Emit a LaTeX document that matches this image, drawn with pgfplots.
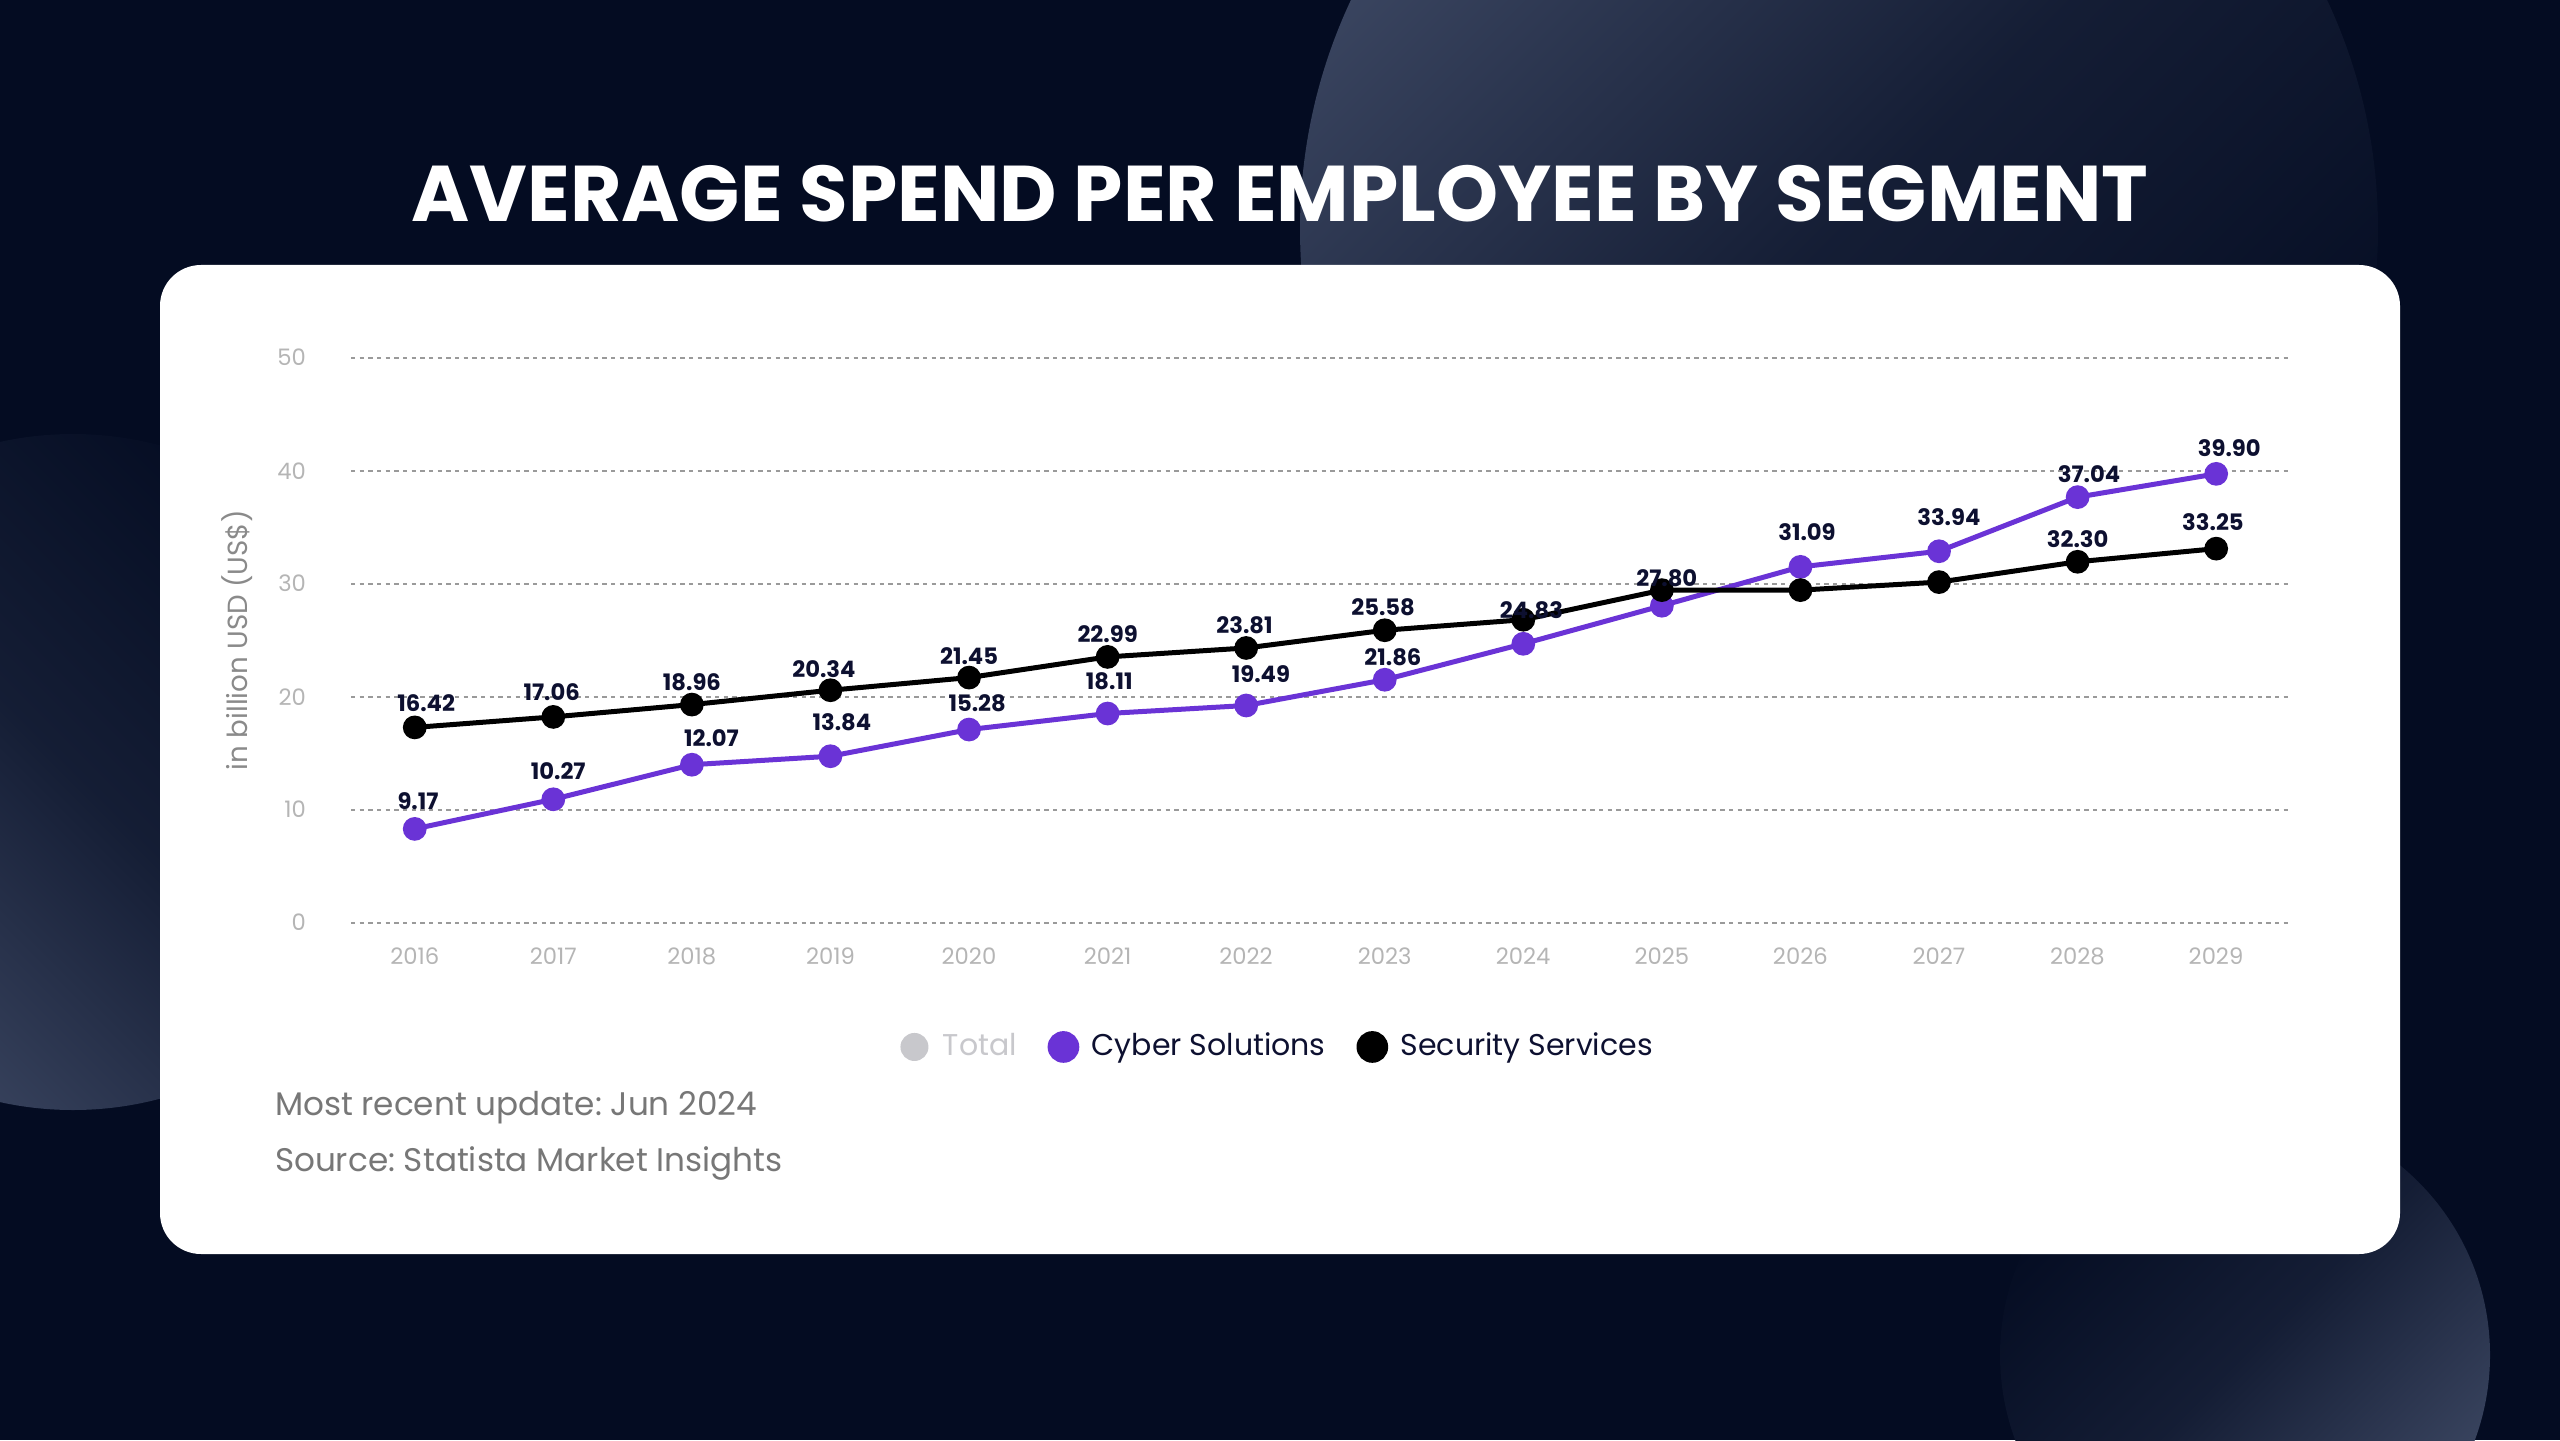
\documentclass[border=0pt]{standalone}
\usepackage{pgfplots}
\pgfplotsset{compat=1.18}
\usepackage{pgfplotstable}
\usepackage{fontspec}
\setmainfont{Poppins}
\frenchspacing
\definecolor{bg}{HTML}{040C22}
\definecolor{circA}{HTML}{3B4661}
\definecolor{cyber}{HTML}{6A33D6}
\definecolor{secur}{HTML}{000000}
\definecolor{lbltext}{HTML}{0D1030}
\definecolor{ticktext}{HTML}{B5B5B5}
\definecolor{ylab}{HTML}{8A8A8A}
\definecolor{gridc}{HTML}{9A9A9A}
\definecolor{foot}{HTML}{777777}
\definecolor{totalc}{HTML}{C8C8CC}

\pgfplotstableread{
x y lbl dx dy
2016 8.30 9.17 2 17
2017 10.92 10.27 3 17
2018 13.98 12.07 12 16
2019 14.73 13.84 7 21
2020 17.09 15.28 5 16
2021 18.51 18.11 1 20
2022 19.22 19.49 9 19
2023 21.50 21.86 5 14
2024 24.68 {} 0 0
2025 28.05 {} 0 0
2026 31.49 31.09 4 21
2027 32.87 33.94 6 21
2028 37.66 37.04 7 14
2029 39.72 39.90 8 16
}\cybertab

\pgfplotstableread{
x y lbl dx dy
2016 17.28 16.42 7 15
2017 18.21 17.06 -1 15
2018 19.30 18.96 0 14
2019 20.57 20.34 -4 13
2020 21.69 21.45 0 13
2021 23.52 22.99 0 14
2022 24.31 23.81 -1 14
2023 25.88 25.58 -1 14
2024 26.81 24.83 5 6
2025 29.43 27.80 3 7
2026 29.43 {} 0 0
2027 30.14 {} 0 0
2028 31.94 32.30 0 14
2029 33.10 33.25 -2 16
}\securtab

\begin{document}
\begin{tikzpicture}
\path[use as bounding box] (0,0) rectangle (768pt,432pt);
\fill[bg] (0,0) rectangle (768pt,432pt);
\begin{scope}
\clip (0,0) rectangle (768pt,432pt);
\shade[top color=circA, bottom color=bg, middle color=bg!70!circA, shading angle=45] (551.7pt,363.3pt) circle (161.7pt);
\shade[top color=circA, bottom color=bg, middle color=bg!70!circA, shading angle=135] (21.9pt,200.4pt) circle (101.4pt);
\shade[top color=circA, bottom color=bg, middle color=bg!70!circA, shading angle=225] (673.5pt,25.5pt) circle (73.5pt);
\end{scope}
\fill[white, rounded corners=12.3pt] (48pt,55.8pt) rectangle (720pt,352.5pt);
\node[anchor=base, text=white, font=\fontsize{23.7}{28}\selectfont\bfseries, inner sep=0pt] at (384pt,365.4pt) {AVERAGE SPEND PER EMPLOYEE BY SEGMENT};
\node[anchor=base west, text=foot, font=\fontsize{9.8}{12}\selectfont, inner sep=0pt] at (82.3pt,97.5pt) {Most recent update: Jun 2024};
\node[anchor=base west, text=foot, font=\fontsize{9.8}{12}\selectfont, inner sep=0pt] at (82.3pt,80.7pt) {Source: Statista Market Insights};

\begin{axis}[
  at={(105.3pt,155.2pt)}, anchor=south west,
  scale only axis, width=582pt, height=169.5pt,
  xmin=2015.54, xmax=2029.54, ymin=0, ymax=50,
  xtick={2016,2017,...,2029}, ytick={0,10,...,50},
  /pgf/number format/1000 sep={},
  /pgf/number format/assume math mode=true,
  axis line style={draw=none}, major tick length=0pt,
  ymajorgrids, grid style={gridc, line width=0.6pt, dash pattern=on 1.3pt off 1.3pt},
  ticklabel style={text=ticktext, font=\fontsize{6.8}{8}\selectfont},
  yticklabel style={anchor=east, xshift=-10pt},
  xticklabel style={anchor=north, yshift=-4pt},
  ylabel={in billion USD (US\$)},
  every axis y label/.style={at={(axis description cs:-0.0586,0.5)}, rotate=90, anchor=center, text=ylab, font=\fontsize{8.3}{10}\selectfont},
  clip=false,
  legend style={draw=none, fill=none, at={(0.479,-0.22)}, anchor=center, legend columns=3,
    font=\fontsize{9}{11}\selectfont, text=lbltext,
    /tikz/every odd column/.append style={column sep=2.5pt},
    /tikz/every even column/.append style={column sep=8pt}},
  legend image code/.code={\draw[#1, mark size=4pt] plot coordinates {(0.12cm,0cm)};},
  point meta=explicit symbolic,
  nodes near coords={\pgfplotspointmeta},
  visualization depends on={\thisrow{dx} \as \ldx},
  visualization depends on={\thisrow{dy} \as \ldy},
  every node near coord/.append style={anchor=center, text=lbltext, font=\fontsize{6.8}{8}\selectfont\bfseries, xshift=\ldx*0.49pt, yshift=\ldy*0.49pt, inner sep=0pt},
]
\addlegendimage{only marks, mark=*, color=totalc}
\addlegendentry{\textcolor{totalc}{Total}}
\addplot[color=cyber, line width=1.5pt, mark=*, mark size=2.8pt] table[x=x, y=y, meta=lbl] {\cybertab};
\addlegendentry{Cyber Solutions}
\addplot[color=secur, line width=1.5pt, mark=*, mark size=2.8pt] table[x=x, y=y, meta=lbl] {\securtab};
\addlegendentry{Security Services}
\end{axis}
\end{tikzpicture}
\end{document}
